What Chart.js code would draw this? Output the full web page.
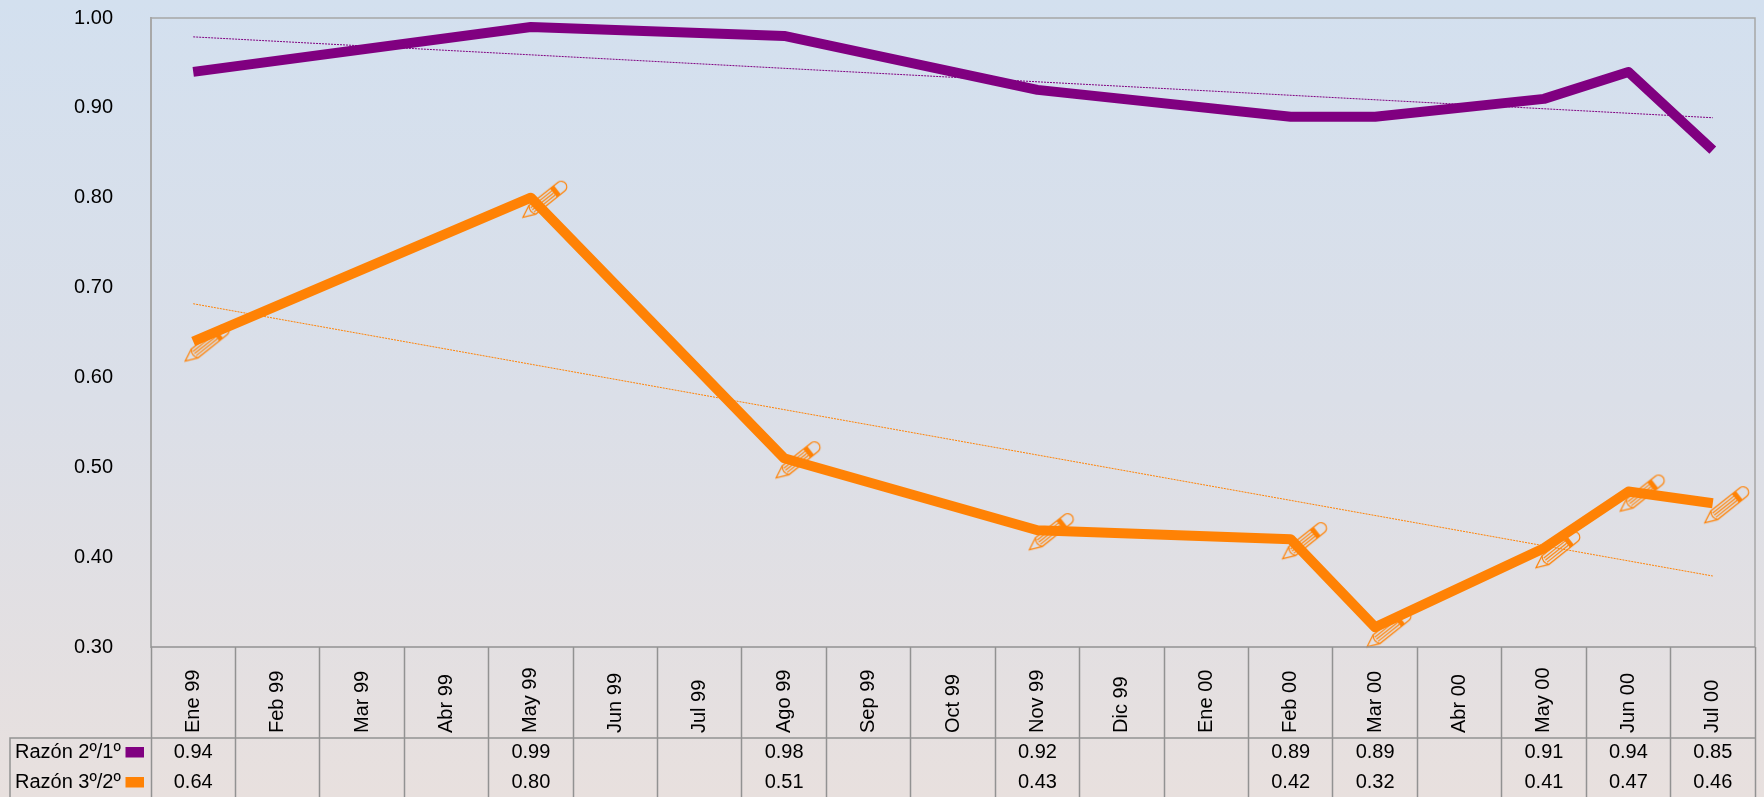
<!DOCTYPE html>
<html>
<head>
<meta charset="utf-8">
<style>
html,body{margin:0;padding:0;width:1764px;height:797px;overflow:hidden;
background:linear-gradient(to bottom,#d3e0ef 0%,#dbdfe8 50%,#e8e0de 100%);}
canvas{display:block;}
</style>
<script src="https://cdn.jsdelivr.net/npm/chart.js@4/dist/chart.umd.min.js"></script>
</head>
<body>
<canvas id="c" width="1764" height="797"></canvas>
<script>
const categories = ["Ene 99","Feb 99","Mar 99","Abr 99","May 99","Jun 99","Jul 99","Ago 99","Sep 99","Oct 99","Nov 99","Dic 99","Ene 00","Feb 00","Mar 00","Abr 00","May 00","Jun 00","Jul 00"];
const ratio21 = [0.94,null,null,null,0.99,null,null,0.98,null,null,0.92,null,null,0.89,0.89,null,0.91,0.94,0.853];
const ratio32 = [0.64,null,null,null,0.80,null,null,0.51,null,null,0.43,null,null,0.42,0.322,null,0.41,0.473,0.46];
const trend21 = [0.979,null,null,null,null,null,null,null,null,null,null,null,null,null,null,null,null,null,0.889];
const trend32 = [0.682,null,null,null,null,null,null,null,null,null,null,null,null,null,null,null,null,null,0.379];
const seriesNames = ["Razón 2º/1º","Razón 3º/2º"];
const PURPLE = "#800080", ORANGE = "#ff8205";
const FONT = "'Liberation Sans', Arial, sans-serif";

function makePencil(){
  const cv = document.createElement("canvas");
  cv.width = 100; cv.height = 70;
  const g = cv.getContext("2d");
  g.translate(42,54.5);
  g.rotate(-38.5*Math.PI/180);
  g.strokeStyle = ORANGE; g.fillStyle = ORANGE; g.lineWidth = 1.2;
  g.beginPath();
  g.moveTo(0,0); g.lineTo(12,-5.5); g.lineTo(49,-5.5);
  g.arc(49,0,5.5,-Math.PI/2,Math.PI/2);
  g.lineTo(12,5.5); g.closePath(); g.stroke();
  g.beginPath(); g.moveTo(12,-5.5); g.quadraticCurveTo(8,0,12,5.5); g.stroke();
  [-2.7,0,2.7].forEach(function(o){ g.beginPath(); g.moveTo(12,o); g.lineTo(39,o); g.stroke(); });
  g.fillRect(39,-5.5,5,11);
  return cv;
}
const pencil = makePencil();

const tablePlugin = {
  id:"tablePlugin",
  beforeDraw(chart){
    const xs = chart.scales.x;
    xs.getLabelItems().forEach(function(it,i){
      it.textOffset = 0;
      it.options.textAlign = "left";
      it.options.textBaseline = "middle";
      it.options.translation = [xs.getPixelForValue(i), 733];
    });
  },
  afterDraw(chart){
    const c = chart.ctx, a = chart.chartArea, xs = chart.scales.x;
    const rowY = [752,782];
    c.save();
    c.strokeStyle = "#a6a6a6"; c.lineWidth = 1.5;
    c.beginPath(); c.moveTo(a.left,a.top); c.lineTo(a.right,a.top); c.lineTo(a.right,a.bottom); c.stroke();
    c.strokeStyle = "#929292"; c.lineWidth = 1.5;
    c.beginPath(); c.moveTo(a.left,a.bottom); c.lineTo(a.right,a.bottom); c.stroke();
    c.beginPath(); c.moveTo(10,797); c.lineTo(10,738); c.lineTo(a.right,738); c.stroke();
    c.font = "20px " + FONT; c.fillStyle = "#000"; c.textBaseline = "middle";
    [ratio21,ratio32].forEach(function(arr,r){
      c.textAlign = "center"; c.fillStyle = "#000";
      arr.forEach(function(v,i){
        if(v!==null) c.fillText(v.toFixed(2), xs.getPixelForValue(i), rowY[r]);
      });
      c.textAlign = "left";
      c.fillText(seriesNames[r], 15, rowY[r]);
      c.fillStyle = r===0 ? PURPLE : ORANGE;
      c.fillRect(125.5, rowY[r]-5, 18.5, 10.5);
    });
    c.restore();
  }
};

new Chart(document.getElementById("c"),{
  type:"line",
  data:{
    labels:categories,
    datasets:[
      {label:seriesNames[0],data:ratio21,borderColor:PURPLE,borderWidth:10,pointRadius:0,spanGaps:true,tension:0,borderCapStyle:"butt",borderJoinStyle:"round"},
      {label:seriesNames[1],data:ratio32,borderColor:ORANGE,borderWidth:10,pointRadius:0,spanGaps:true,tension:0,borderCapStyle:"butt",borderJoinStyle:"round"},
      {label:"marcas",data:ratio32,showLine:false,pointStyle:pencil,pointRadius:1,clip:false},
      {label:"Tendencia 2º/1º",data:trend21,borderColor:PURPLE,borderWidth:1,borderDash:[2,1],pointRadius:0,spanGaps:true,tension:0},
      {label:"Tendencia 3º/2º",data:trend32,borderColor:ORANGE,borderWidth:1,borderDash:[2,1],pointRadius:0,spanGaps:true,tension:0}
    ]
  },
  options:{
    responsive:false,
    animation:false,
    devicePixelRatio:1,
    layout:{autoPadding:false,padding:{top:18,right:9,left:0,bottom:0}},
    plugins:{legend:{display:false},tooltip:{enabled:false},title:{display:false}},
    scales:{
      x:{
        type:"category",
        offset:true,
        afterFit(s){ s.height = 150; s.paddingRight = 0; s.paddingLeft = 0; },
        grid:{display:true,offset:true,drawOnChartArea:false,drawTicks:true,tickLength:150,tickColor:"#929292",tickWidth:1.5},
        border:{display:false},
        ticks:{autoSkip:false,minRotation:90,maxRotation:90,padding:0,color:"#000",font:{family:FONT,size:20}}
      },
      y:{
        min:0.3,max:1,
        afterFit(s){ s.width = 151; s.paddingTop = 0; s.paddingBottom = 0; },
        grid:{display:false,drawTicks:false},
        border:{display:true,color:"#a8a8a8",width:2},
        ticks:{stepSize:0.1,padding:38,color:"#000",font:{family:FONT,size:20},callback:function(v){return Number(v).toFixed(2);}}
      }
    }
  },
  plugins:[tablePlugin]
});
</script>
</body>
</html>
